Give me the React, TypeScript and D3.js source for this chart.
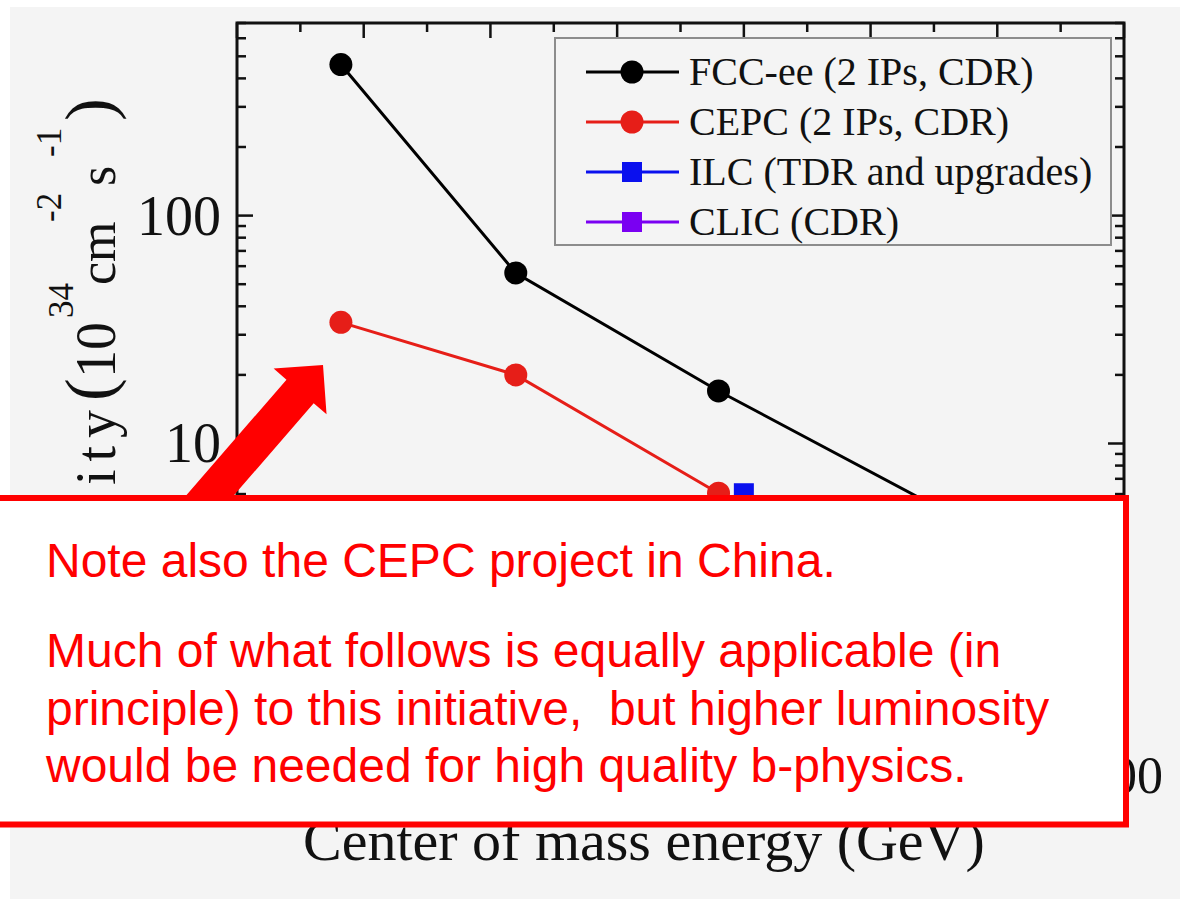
import React from 'react';
import * as d3 from 'd3';

// ---- data ----
const fccEnergy = [91, 160, 240, 365];
const fccLumi = [460, 56, 17, 3.1];
const cepcEnergy = [91, 160, 240];
const cepcLumi = [34, 20, 6.05];
const ilcEnergy = [250];
const ilcLumi = [6.05];
const clicEnergy = [380];
const clicLumi = [1.5];

const legendLabels = [
  'FCC-ee (2 IPs, CDR)',
  'CEPC (2 IPs, CDR)',
  'ILC (TDR and upgrades)',
  'CLIC (CDR)',
];
const xMajorTicks = [50, 100, 150, 200, 250, 300, 350, 400];
const xMinorTicks = [75, 125, 175, 225, 275, 325, 375];
const yLabelTicks = [1, 10, 100];
const xTitle = 'Center of mass energy (GeV)';
const noteLines = [
  'Note also the CEPC project in China.',
  'Much of what follows is equally applicable (in',
  'principle) to this initiative,  but higher luminosity',
  'would be needed for high quality b-physics.',
];

const SERIF = '"Liberation Serif", "Times New Roman", Times, serif';
const SANS = '"Liberation Sans", Arial, Helvetica, sans-serif';

export default function App() {
  const L = 237, R = 1124, T = 23, B = 740;
  const x = d3.scaleLinear().domain([50, 400]).range([L, R]);
  const y = d3.scaleLog().domain([0.5, 700]).range([B, T]);

  const series = [
    { e: fccEnergy, v: fccLumi, color: '#000000', shape: 'circle' },
    { e: cepcEnergy, v: cepcLumi, color: '#e61e18', shape: 'circle' },
    { e: ilcEnergy, v: ilcLumi, color: '#0a10ee', shape: 'square' },
    { e: clicEnergy, v: clicLumi, color: '#7a00f2', shape: 'square' },
  ];

  const line = d3
    .line<[number, number]>()
    .x((d) => x(d[0]))
    .y((d) => y(d[1]));

  const yTicks = y.ticks();
  const isMajor = (v: number) => Math.abs(Math.log10(v) - Math.round(Math.log10(v))) < 1e-9;

  // arrow geometry (annotation)
  const tip = [323, 365];
  const th = Math.atan2(-0.756, 0.655);
  const d = [Math.cos(th), Math.sin(th)];
  const n = [-d[1], d[0]];
  const headLen = 35, headHalf = 35, shaftHalf = 18, tailLen = 220;
  const bm = [tip[0] - headLen * d[0], tip[1] - headLen * d[1]];
  const tl = [bm[0] - tailLen * d[0], bm[1] - tailLen * d[1]];
  const pt = (p: number[], k: number) => `${p[0] + k * n[0]},${p[1] + k * n[1]}`;
  const arrowPts = [
    `${tip[0]},${tip[1]}`,
    pt(bm, headHalf),
    pt(bm, shaftHalf),
    pt(tl, shaftHalf),
    pt(tl, -shaftHalf),
    pt(bm, -shaftHalf),
    pt(bm, -headHalf),
  ].join(' ');

  const marker = (shape: string, cx: number, cy: number, color: string, key?: any) =>
    shape === 'circle' ? (
      <circle key={key} cx={cx} cy={cy} r={11.5} fill={color} />
    ) : (
      <rect key={key} x={cx - 10} y={cy - 10} width={20} height={20} fill={color} />
    );

  return (
    <svg
      width={1180}
      height={899}
      viewBox="0 0 1180 899"
      style={{ position: 'absolute', left: 0, top: 0, display: 'block' }}
    >
      <rect x={0} y={0} width={1180} height={899} fill="#ffffff" />
      <rect x={10} y={7} width={1170} height={892} fill="#f4f4f4" />

      {/* frame */}
      <rect x={L} y={T} width={R - L} height={B - T} fill="none" stroke="#111" strokeWidth={3} />

      {/* y ticks */}
      {yTicks.map((v, i) => {
        const len = isMajor(v) ? 16 : 9;
        return (
          <g key={'yt' + i} stroke="#111" strokeWidth={2.5}>
            <line x1={L} x2={L + len} y1={y(v)} y2={y(v)} />
            <line x1={R} x2={R - len} y1={y(v)} y2={y(v)} />
          </g>
        );
      })}
      {/* x ticks */}
      {xMajorTicks.map((v, i) => (
        <g key={'xM' + i} stroke="#111" strokeWidth={2.5}>
          <line x1={x(v)} x2={x(v)} y1={T} y2={T + 15} />
          <line x1={x(v)} x2={x(v)} y1={B} y2={B - 15} />
        </g>
      ))}
      {xMinorTicks.map((v, i) => (
        <g key={'xm' + i} stroke="#111" strokeWidth={2.5}>
          <line x1={x(v)} x2={x(v)} y1={T} y2={T + 9} />
          <line x1={x(v)} x2={x(v)} y1={B} y2={B - 9} />
        </g>
      ))}

      {/* tick labels */}
      {yLabelTicks.map((v, i) => (
        <text key={'yl' + i} x={221} y={y(v) + 19} textAnchor="end" fontFamily={SERIF} fontSize={56} fill="#111">
          {v}
        </text>
      ))}
      {xMajorTicks.map((v, i) => (
        <text key={'xl' + i} x={x(v)} y={793} textAnchor="middle" fontFamily={SERIF} fontSize={52} fill="#111">
          {v}
        </text>
      ))}

      {/* series */}
      {series.map((s, i) => {
        const pts: [number, number][] = s.e.map((e, j) => [e, s.v[j]]);
        return (
          <g key={'s' + i}>
            {pts.length > 1 && (
              <path d={line(pts) || ''} fill="none" stroke={s.color} strokeWidth={3} />
            )}
            {pts.map((p, j) => marker(s.shape, x(p[0]), y(p[1]), s.color, j))}
          </g>
        );
      })}

      {/* legend */}
      <rect x={555} y={38} width={556} height={207} fill="#f4f4f4" stroke="#8c8c8c" strokeWidth={2} />
      {series.map((s, i) => {
        const cy = 72 + i * 50;
        return (
          <g key={'lg' + i}>
            <line x1={586} x2={679} y1={cy} y2={cy} stroke={s.color} strokeWidth={3} />
            {marker(s.shape, 632, cy, s.color)}
            <text x={689} y={cy + 13} fontFamily={SERIF} fontSize={40} fill="#111">
              {legendLabels[i]}
            </text>
          </g>
        );
      })}

      {/* y axis title */}
      <g transform="translate(115,0) rotate(-90)" fontFamily={SERIF} fill="#111">
        <text x={-402} y={0} textAnchor="end" fontSize={56} letterSpacing={8}>Luminosity</text>
        <text x={-401} y={-3} fontSize={68}>(</text>
        <text x={-378} y={0} fontSize={56}>10</text>
        <text x={-318} y={-42} fontSize={35}>34</text>
        <text x={-285} y={0} fontSize={52}>cm</text>
        <text x={-222} y={-54} fontSize={35}>-2</text>
        <text x={-186} y={0} fontSize={52}>s</text>
        <text x={-157} y={-54} fontSize={35}>-1</text>
        <text x={-121} y={-3} fontSize={68}>)</text>
      </g>

      {/* x axis title */}
      <text x={303} y={860} fontFamily={SERIF} fontSize={58} fill="#111">
        {xTitle}
      </text>

      {/* arrow */}
      <polygon points={arrowPts} fill="#ff0000" />

      {/* note box */}
      <rect x={-10} y={498} width={1136} height={326.5} fill="#ffffff" stroke="#ff0000" strokeWidth={6} />
      {noteLines.map((t, i) => (
        <text
          key={'n' + i}
          x={46}
          y={[577, 667, 725, 782][i]}
          fontFamily={SANS}
          fontSize={48}
          fill="#ff0000"
          style={{ whiteSpace: 'pre' }}
        >
          {t}
        </text>
      ))}
    </svg>
  );
}
